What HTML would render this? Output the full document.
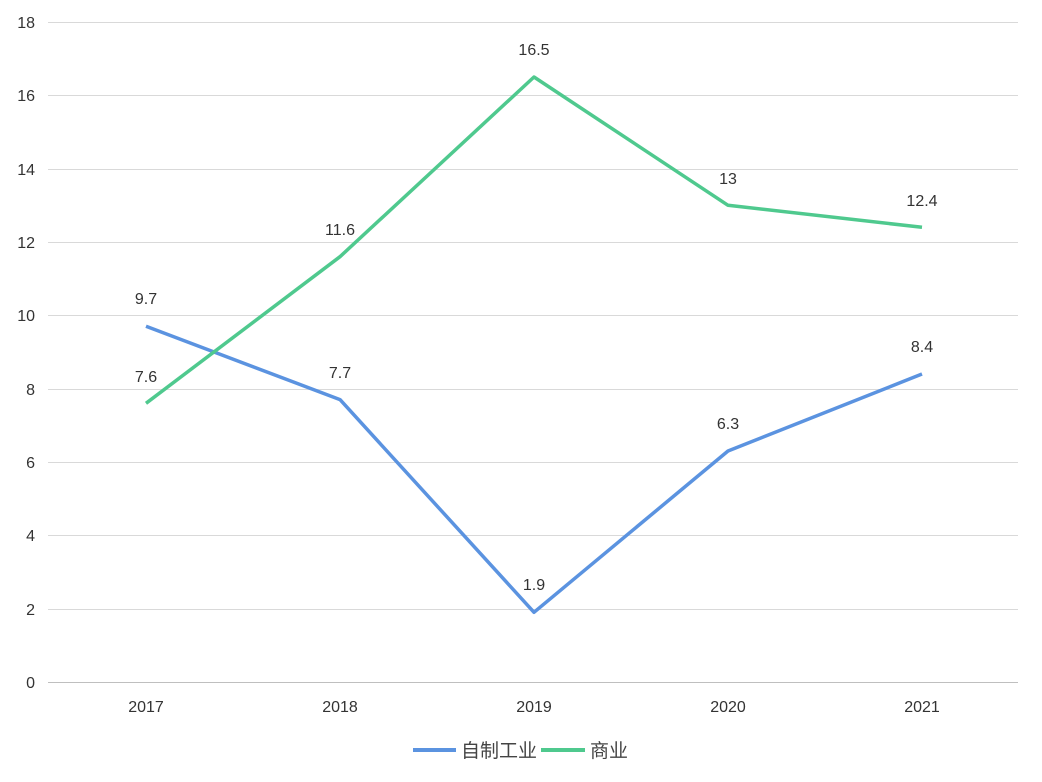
<!DOCTYPE html>
<html><head><meta charset="utf-8"><style>
html,body{margin:0;padding:0;background:#fff;}
svg{display:block;}
text{font-family:"Liberation Sans","Noto Sans CJK SC",sans-serif;font-size:16px;fill:#333;}
.lg{font-size:19px;fill:#444;}
</style></head><body>
<svg width="1042" height="782" viewBox="0 0 1042 782">
<g stroke="#d9d9d9" stroke-width="1">
<line x1="48" x2="1018" y1="22.5" y2="22.5"/>
<line x1="48" x2="1018" y1="95.5" y2="95.5"/>
<line x1="48" x2="1018" y1="169.5" y2="169.5"/>
<line x1="48" x2="1018" y1="242.5" y2="242.5"/>
<line x1="48" x2="1018" y1="315.5" y2="315.5"/>
<line x1="48" x2="1018" y1="389.5" y2="389.5"/>
<line x1="48" x2="1018" y1="462.5" y2="462.5"/>
<line x1="48" x2="1018" y1="535.5" y2="535.5"/>
<line x1="48" x2="1018" y1="609.5" y2="609.5"/>
<line x1="48" x2="1018" y1="682.5" y2="682.5" stroke="#bfbfbf"/>
</g>
<g text-anchor="end">
<text x="35" y="28">18</text><text x="35" y="101">16</text><text x="35" y="175">14</text>
<text x="35" y="248">12</text><text x="35" y="321">10</text><text x="35" y="395">8</text>
<text x="35" y="468">6</text><text x="35" y="541">4</text><text x="35" y="615">2</text>
<text x="35" y="688">0</text>
</g>
<g text-anchor="middle">
<text x="146" y="712">2017</text><text x="340" y="712">2018</text><text x="534" y="712">2019</text>
<text x="728" y="712">2020</text><text x="922" y="712">2021</text>
</g>
<polyline fill="none" stroke="#5b93e0" stroke-width="3.5" stroke-linejoin="round" points="146,326.3 340,399.6 534,612.3 728,451 922,374"/>
<polyline fill="none" stroke="#4fc98e" stroke-width="3.5" stroke-linejoin="round" points="146,403.3 340,256.7 534,77 728,205.3 922,227.3"/>
<g text-anchor="middle">
<text x="146" y="304">9.7</text><text x="340" y="378">7.7</text><text x="534" y="590">1.9</text>
<text x="728" y="429">6.3</text><text x="922" y="352">8.4</text>
<text x="146" y="382">7.6</text><text x="340" y="235">11.6</text><text x="534" y="55">16.5</text>
<text x="728" y="184">13</text><text x="922" y="206">12.4</text>
</g>
<line x1="413" x2="456" y1="750" y2="750" stroke="#5b93e0" stroke-width="4"/>
<text class="lg" x="461" y="757">自制工业</text>
<line x1="541" x2="585" y1="750" y2="750" stroke="#4fc98e" stroke-width="4"/>
<text class="lg" x="590" y="757">商业</text>
</svg>
</body></html>
